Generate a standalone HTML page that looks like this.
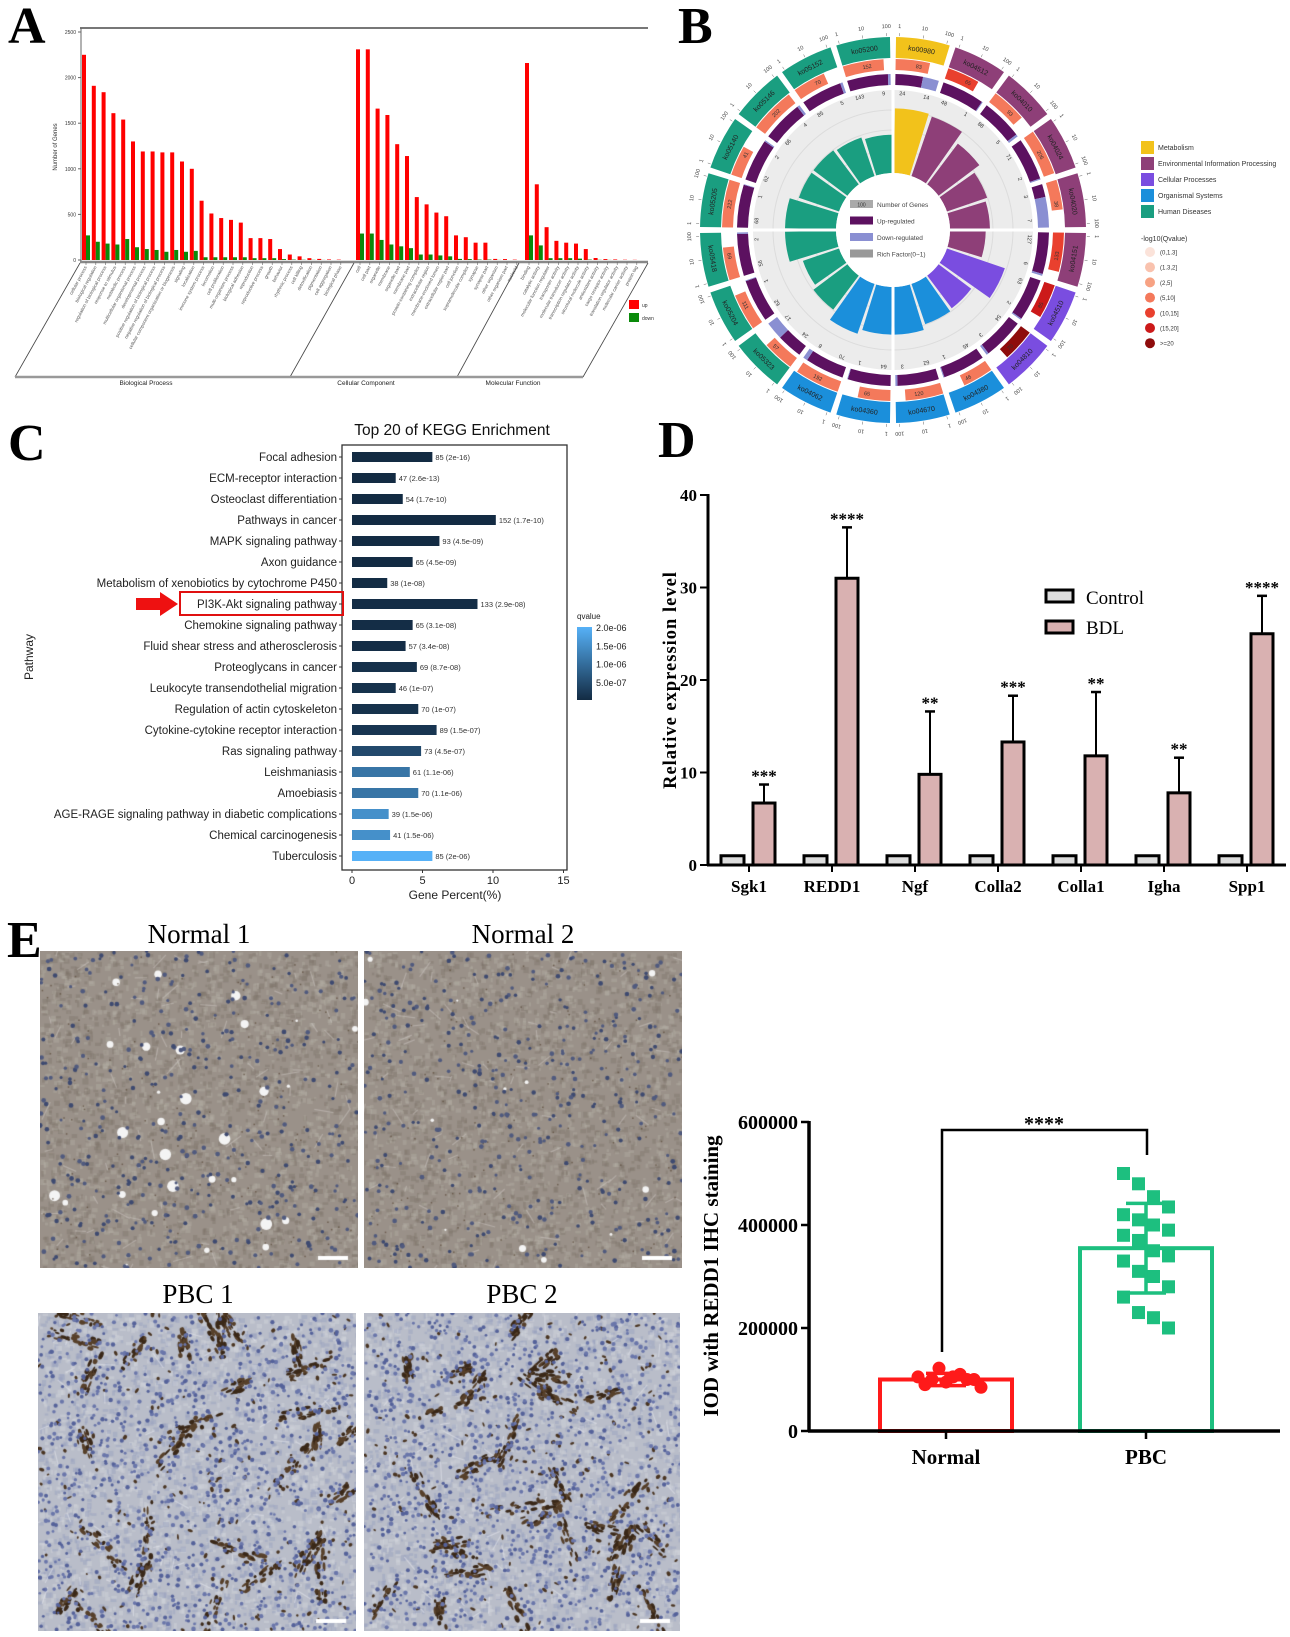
<!DOCTYPE html>
<html><head><meta charset="utf-8">
<style>
html,body{margin:0;padding:0;background:#fff;}
#stage{position:relative;width:1290px;height:1637px;overflow:hidden;background:#fff;}
canvas{position:absolute;}
svg{position:absolute;left:0;top:0;}
</style></head>
<body>
<div id="stage">
<canvas id="n1" width="318" height="317" style="left:40px;top:951px"></canvas>
<canvas id="n2" width="318" height="317" style="left:364px;top:951px"></canvas>
<canvas id="p1" width="318" height="318" style="left:38px;top:1313px"></canvas>
<canvas id="p2" width="316" height="318" style="left:364px;top:1313px"></canvas>
<svg id="svg" width="1290" height="1637" viewBox="0 0 1290 1637"></svg>
</div>
<script>
// ===== Panel A data =====
const goBPnames=["cellular process","biological regulation","regulation of biological process","response to stimulus","metabolic process","multicellular organismal process","developmental process","positive regulation of biological process","negative regulation of biological process","cellular component organization or biogenesis","signaling","localization","immune system process","locomotion","cell proliferation","multi-organism process","biological adhesion","reproduction","reproductive process","growth","behavior","rhythmic process","cell killing","detoxification","pigmentation","cell aggregation","biological phase"];
const goBPup=[2250,1910,1840,1610,1540,1300,1190,1190,1180,1180,1080,1000,650,510,460,440,410,240,240,230,120,60,40,20,12,6,4];
const goBPdown=[270,200,180,170,230,140,120,110,90,110,90,100,30,30,30,30,30,20,20,20,10,5,3,2,1,0,0];
const goCCnames=["cell","cell part","organelle","membrane","organelle part","membrane part","protein-containing complex","extracellular region","membrane-enclosed lumen","extracellular region part","cell junction","supramolecular complex","synapse","synapse part","other organism","other organism part","nucleoid"];
const goCCup=[2310,2310,1660,1590,1270,1140,690,610,520,480,270,250,190,190,12,10,4];
const goCCdown=[290,290,220,170,150,130,60,60,50,40,12,10,5,5,1,0,0];
const goMFnames=["binding","catalytic activity","molecular function regulator","transporter activity","molecular transducer activity","transcription regulator activity","structural molecule activity","antioxidant activity","cargo receptor activity","translation regulator activity","molecular carrier activity","protein tag"];
const goMFup=[2160,830,360,210,190,180,120,22,10,6,3,2];
const goMFdown=[270,160,20,20,20,15,5,2,1,0,0,0];
const goYTicks=[0,500,1000,1500,2000,2500];

// ===== Panel B data =====
const koIds=["ko00980","ko04512","ko04010","ko04024","ko04020","ko04151","ko04510","ko04810","ko04380","ko04670","ko04360","ko04062","ko05323","ko05204","ko05418","ko05205","ko05140","ko05146","ko05152","ko05200"];
const koClass=[0,1,1,1,1,1,2,2,3,3,3,3,4,4,4,4,4,4,4,4];
const koGenes=[83,65,93,206,38,133,85,70,46,120,65,192,57,111,69,222,41,202,70,152];
const koUp=[24,48,88,71,3,127,63,54,45,62,64,70,24,62,56,68,62,66,85,143];
const koDown=[14,1,5,2,7,6,2,3,1,3,1,8,17,1,2,1,2,4,5,9];
const koRich=[0.76,0.74,0.6,0.5,0.47,0.42,0.72,0.48,0.5,0.56,0.56,0.62,0.5,0.45,0.6,0.6,0.5,0.5,0.48,0.45];
const koQcat=[3,4,3,3,3,4,5,6,3,3,3,3,3,3,3,3,3,3,3,3];
const classNames=["Metabolism","Environmental Information Processing","Cellular Processes","Organismal Systems","Human Diseases"];
const qNames=["(0,1.3]","(1.3,2]","(2,5]","(5,10]","(10,15]","(15,20]",">=20"];

// ===== Panel C data =====
const keggNames=["Focal adhesion","ECM-receptor interaction","Osteoclast differentiation","Pathways in cancer","MAPK signaling pathway","Axon guidance","Metabolism of xenobiotics by cytochrome P450","PI3K-Akt signaling pathway","Chemokine signaling pathway","Fluid shear stress and atherosclerosis","Proteoglycans in cancer","Leukocyte transendothelial migration","Regulation of actin cytoskeleton","Cytokine-cytokine receptor interaction","Ras signaling pathway","Leishmaniasis","Amoebiasis","AGE-RAGE signaling pathway in diabetic complications","Chemical carcinogenesis","Tuberculosis"];
const keggPct=[5.7,3.1,3.6,10.2,6.2,4.3,2.5,8.9,4.3,3.8,4.6,3.1,4.7,6.0,4.9,4.1,4.7,2.6,2.7,5.7];
const keggCount=[85,47,54,152,93,65,38,133,65,57,69,46,70,89,73,61,70,39,41,85];
const keggQ=[2e-16,2.6e-13,1.7e-10,1.7e-10,4.5e-9,4.5e-9,1e-8,2.9e-8,3.1e-8,3.4e-8,8.7e-8,1e-7,1e-7,1.5e-7,4.5e-7,1.1e-6,1.1e-6,1.5e-6,1.5e-6,2e-6];
const keggQLabel=["2e-16","2.6e-13","1.7e-10","1.7e-10","4.5e-09","4.5e-09","1e-08","2.9e-08","3.1e-08","3.4e-08","8.7e-08","1e-07","1e-07","1.5e-07","4.5e-07","1.1e-06","1.1e-06","1.5e-06","1.5e-06","2e-06"];
const keggXTicks=[0,5,10,15];
const qTicks=[2.0e-6,1.5e-6,1.0e-6,5.0e-7];
const qTickLabels=["2.0e-06","1.5e-06","1.0e-06","5.0e-07"];

// ===== Panel D data =====
const genes=["Sgk1","REDD1","Ngf","Colla2","Colla1","Igha","Spp1"];
const ctrlVals=[1,1,1,1,1,1,1];
const bdlVals=[6.7,31,9.8,13.3,11.8,7.8,25];
const bdlErrTop=[8.7,36.5,16.6,18.3,18.7,11.6,29.1];
const bdlStars=["***","****","**","***","**","**","****"];
const dYTicks=[0,10,20,30,40];

// ===== Panel E data =====
const normalVals=[105000,100000,95000,110000,100000,90000,122000,105000,100000,85000];
const pbcVals=[500000,480000,455000,435000,420000,410000,400000,390000,380000,370000,350000,340000,330000,310000,300000,280000,260000,230000,220000,200000];
const groupMeans=[100000,355000];
const groupSD=[12000,87000];
const eYTicks=[0,200000,400000,600000];
const eGroups=["Normal","PBC"];

const NS='http://www.w3.org/2000/svg';
const svg=document.getElementById('svg');
function mk(tag,attrs,parent){const e=document.createElementNS(NS,tag);for(const k in attrs)e.setAttribute(k,attrs[k]);(parent||svg).appendChild(e);return e;}
function txt(x,y,s,attrs,parent){const e=mk('text',Object.assign({x:x,y:y},attrs),parent);e.textContent=s;return e;}
const SERIF='Liberation Serif, serif', SANS='Liberation Sans, sans-serif';

[["A",8,43],["B",678,43],["C",8,460],["D",658,457],["E",7,957]].forEach(p=>{
  const t=txt(p[1],p[2],p[0],{'font-family':SERIF,'font-size':52,'font-weight':'bold'});
  
  
});

// ===== Panel A =====
(function(){
  const g=mk('g',{});
  
  
  const y=v=>260-v*(228/2500);
  const step=9.8;
  mk('line',{x1:80,y1:28,x2:648,y2:28,stroke:'#777','stroke-width':2},g);
  mk('line',{x1:81,y1:28,x2:81,y2:262,stroke:'#666','stroke-width':1},g);
  mk('line',{x1:80,y1:262,x2:648,y2:262,stroke:'#888','stroke-width':2.5},g);
  goYTicks.forEach(t=>{mk('line',{x1:78,x2:81,y1:y(t),y2:y(t),stroke:'#666'},g);txt(76,y(t)+2,String(t),{'font-family':SANS,'font-size':5,'text-anchor':'end',fill:'#333'},g);});
  const yl=txt(0,0,'Number of Genes',{'font-family':SANS,'font-size':6,'text-anchor':'middle',fill:'#333',transform:'translate(57,147) rotate(-90)'},g);
  
  function group(names,up,down,x0,gname){
    names.forEach((n,i)=>{
      const x=x0+i*step;
      const r=mk('rect',{x:x,y:y(up[i]),width:4,height:260-y(up[i]),fill:'#ff0000'},g);
      
      
      const d=mk('rect',{x:x+4,y:y(down[i]),width:4,height:260-y(down[i]),fill:'#0a8a0a'},g);
      
      
      mk('line',{x1:x+4,x2:x+4,y1:262,y2:265,stroke:'#666','stroke-width':0.6},g);
      txt(0,0,n,{'font-family':SANS,'font-size':4.6,'text-anchor':'end',fill:'#555',transform:`translate(${x+5},267) rotate(-62)`},g);
    });
  }
  group(goBPnames,goBPup,goBPdown,82,'bp');
  group(goCCnames,goCCup,goCCdown,356,'cc');
  group(goMFnames,goMFup,goMFdown,525,'mf');
  [[80,15],[354,290],[519,457],[648,583]].forEach(s=>mk('line',{x1:s[0],y1:263,x2:s[1],y2:377,stroke:'#444','stroke-width':0.8},g));
  mk('line',{x1:15,y1:377,x2:583,y2:377,stroke:'#999','stroke-width':2.5},g);
  [["Biological Process",146],["Cellular Component",366],["Molecular Function",513]].forEach(l=>{
    const t=txt(l[1],385,l[0],{'font-family':SANS,'font-size':6.5,'text-anchor':'middle',fill:'#222'},g);
    
  });
  const lu=mk('rect',{x:629,y:300,width:10,height:9,fill:'#ff0000'},g);
  
  txt(642,307,'up',{'font-family':SANS,'font-size':5,fill:'#333'},g);
  const ld=mk('rect',{x:629,y:313,width:10,height:9,fill:'#0a8a0a'},g);
  
  txt(642,320,'down',{'font-family':SANS,'font-size':5,fill:'#333'},g);
})();

// ===== Panel B =====
(function(){
  const g=mk('g',{});
  
  
  const cx=893,cy=230;
  const classCol=['#f2c21b','#8e3f78','#7a4de0','#1b8fdb','#1a9e80'];
  const qCol=['#fbe3da','#f9c2ae','#f7a283','#f4795b','#e9402e','#cc1a1a','#8e0c0c'];
  const P=(r,a)=>[cx+r*Math.sin(a*Math.PI/180),cy-r*Math.cos(a*Math.PI/180)];
  function arc(r0,r1,a0,a1){const p1=P(r1,a0),p2=P(r1,a1),p3=P(r0,a1),p4=P(r0,a0);const lg=(a1-a0)>180?1:0;
    return `M${p1[0]},${p1[1]} A${r1},${r1} 0 ${lg} 1 ${p2[0]},${p2[1]} L${p3[0]},${p3[1]} A${r0},${r0} 0 ${lg} 0 ${p4[0]},${p4[1]} Z`;}
  mk('circle',{cx:cx,cy:cy,r:140,fill:'#ececec'},g);
  [80,100,120].forEach(r=>mk('circle',{cx:cx,cy:cy,r:r,fill:'none',stroke:'#dcdcdc','stroke-width':1},g));
  const n=koIds.length, seg=360/n, gap=0.9;
  const maxG=Math.max(...koGenes);
  koIds.forEach((id,i)=>{
    const a0=i*seg+gap,a1=(i+1)*seg-gap,am=(a0+a1)/2;
    const col=classCol[koClass[i]];
    const o=mk('path',{d:arc(172,193,a0,a1),fill:col},g);
    
    
    const tp=P(182.5,am);const rot=(am>90&&am<270)?am+180:am;
    txt(tp[0],tp[1]+2.5,id,{'font-family':SANS,'font-size':7,'text-anchor':'middle',fill:'#222',transform:`rotate(${rot},${tp[0]},${tp[1]})`},g);
    ['1','10','100'].forEach((s,k)=>{const aa=a0+1+k*(a1-a0-2)/2;const q=P(204,aa);
      txt(q[0],q[1]+2,s,{'font-family':SANS,'font-size':5.5,'text-anchor':'middle',fill:'#444',transform:`rotate(${aa},${q[0]},${q[1]})`},g);
      const t1=P(194,aa),t2=P(197,aa);mk('line',{x1:t1[0],y1:t1[1],x2:t2[0],y2:t2[1],stroke:'#666','stroke-width':0.5},g);});
    const ge=a0+(a1-a0)*Math.min(1,0.55+0.45*koGenes[i]/maxG);
    const s=mk('path',{d:arc(160,171,a0,ge),fill:qCol[koQcat[i]]},g);
    
    
    const tp2=P(165.5,am);
    txt(tp2[0],tp2[1]+2,String(koGenes[i]),{'font-family':SANS,'font-size':5.5,'text-anchor':'middle',fill:'#333',transform:`rotate(${rot},${tp2[0]},${tp2[1]})`},g);
    const tot=koUp[i]+koDown[i];const am2=a0+(a1-a0)*koUp[i]/tot;
    const u=mk('path',{d:arc(145,156,a0,am2),fill:'#5c1160'},g);
    
    
    const d=mk('path',{d:arc(145,156,am2,a1),fill:'#8a8fd2'},g);
    
    
    const q1=P(137,a0+3),q2=P(137,a1-3);
    txt(q1[0],q1[1]+2,String(koUp[i]),{'font-family':SANS,'font-size':5.5,'text-anchor':'middle',fill:'#333',transform:`rotate(${a0+3},${q1[0]},${q1[1]})`},g);
    txt(q2[0],q2[1]+2,String(koDown[i]),{'font-family':SANS,'font-size':5.5,'text-anchor':'middle',fill:'#333',transform:`rotate(${a1-3},${q2[0]},${q2[1]})`},g);
    const rr=57+koRich[i]*85;
    const b=mk('path',{d:arc(57,rr,a0,a1),fill:col},g);
    
    
  });
  [0,90,180,270].forEach(a=>{const p1=P(50,a),p2=P(215,a);mk('line',{x1:p1[0],y1:p1[1],x2:p2[0],y2:p2[1],stroke:'#fff','stroke-width':3},g);});
  mk('circle',{cx:cx,cy:cy,r:57,fill:'#fff'},g);
  const lg=[['#aaa','Number of Genes'],['#5c1160','Up-regulated'],['#8a8fd2','Down-regulated'],['#999','Rich Factor(0~1)']];
  lg.forEach((l,k)=>{const yy=200+k*16.5;
    const r=mk('rect',{x:850,y:yy,width:23,height:8,fill:l[0]},g);
    
    txt(877,yy+7,l[1],{'font-family':SANS,'font-size':6.5,fill:'#444'},g);});
  txt(861.5,206.5,'100',{'font-family':SANS,'font-size':5,'text-anchor':'middle',fill:'#333'},g);
  classNames.forEach((c,k)=>{const yy=141+k*16;
    const r=mk('rect',{x:1141,y:yy,width:13,height:13,fill:classCol[k]},g);
    
    
    txt(1158,yy+9,c,{'font-family':SANS,'font-size':7,fill:'#333'},g);});
  txt(1141,241,'-log10(Qvalue)',{'font-family':SANS,'font-size':7,fill:'#333'},g);
  qNames.forEach((q,k)=>{const yy=252+k*15.2;
    const c=mk('circle',{cx:1150,cy:yy,r:5,fill:qCol[k]},g);
    
    
    txt(1160,yy+2.5,q,{'font-family':SANS,'font-size':6,fill:'#333'},g);});
})();

// ===== Panel C =====
(function(){
  const g=mk('g',{});
  
  
  const x=v=>352+v*14.1, rowY=i=>457+i*21;
  const qc=q=>{const t=Math.min(1,q/2e-6);const a=[19,43,67],b=[86,177,247];return `rgb(${a.map((c,k)=>Math.round(c+(b[k]-c)*t)).join(',')})`;};
  txt(452,435,'Top 20 of KEGG Enrichment',{'font-family':SANS,'font-size':15.5,'text-anchor':'middle',fill:'#111'},g);
  mk('rect',{x:342,y:445,width:225,height:425,fill:'none',stroke:'#333','stroke-width':1.3},g);
  keggNames.forEach((nm,i)=>{const yy=rowY(i);
    const t=txt(337,yy+4,nm,{'font-family':SANS,'font-size':11.5,'text-anchor':'end',fill:'#222'},g);
    
    mk('line',{x1:339,x2:342,y1:yy,y2:yy,stroke:'#333'},g);
    const b=mk('rect',{x:x(0),y:yy-5,width:x(keggPct[i])-x(0),height:10,fill:qc(keggQ[i])},g);
    
    
    txt(x(keggPct[i])+3,yy+3,keggCount[i]+' ('+keggQLabel[i]+')',{'font-family':SANS,'font-size':7.5,fill:'#333'},g);
  });
  keggXTicks.forEach(t=>{mk('line',{x1:x(t),x2:x(t),y1:870,y2:873,stroke:'#333'},g);
    txt(x(t),884,String(t),{'font-family':SANS,'font-size':11,'text-anchor':'middle',fill:'#222'},g);});
  const xt=txt(455,899,'Gene Percent(%)',{'font-family':SANS,'font-size':12,'text-anchor':'middle',fill:'#222'},g);
  
  const yt=txt(0,0,'Pathway',{'font-family':SANS,'font-size':12,'text-anchor':'middle',fill:'#222',transform:'translate(33,657) rotate(-90)'},g);
  
  const hb=mk('rect',{x:180,y:592,width:163,height:23,fill:'none',stroke:'#e01010','stroke-width':2},g);
  
  const ar=mk('path',{d:'M136,598 L160,598 L160,592 L178,604 L160,616 L160,610 L136,610 Z',fill:'#ee1111'},g);
  
  const defs=mk('defs',{},g);const lgd=mk('linearGradient',{id:'qg',x1:0,y1:1,x2:0,y2:0},defs);
  mk('stop',{offset:0,'stop-color':'#132b43'},lgd);mk('stop',{offset:1,'stop-color':'#56b1f7'},lgd);
  const cb=mk('rect',{x:577,y:627,width:15,height:73,fill:'url(#qg)'},g);
  
  txt(577,619,'qvalue',{'font-family':SANS,'font-size':8,fill:'#222'},g);
  const qy=q=>700-q/2e-6*73+1;
  qTicks.forEach((q,k)=>txt(596,qy(q)+3,qTickLabels[k],{'font-family':SANS,'font-size':9,fill:'#222'},g));
})();

// ===== Panel D =====
(function(){
  const g=mk('g',{});
  
  
  const y=v=>865-v*9.25, cx=i=>749+i*83;
  dYTicks.forEach(t=>{mk('line',{x1:700,x2:708,y1:y(t),y2:y(t),stroke:'#000','stroke-width':2},g);
    txt(697,y(t)+6,String(t),{'font-family':SERIF,'font-size':17,'font-weight':'bold','text-anchor':'end'},g);});
  genes.forEach((gn,i)=>{const c=cx(i);
    const cr=mk('rect',{x:c-28,y:y(ctrlVals[i]),width:23,height:865-y(ctrlVals[i]),fill:'#dcdcdc',stroke:'#000','stroke-width':3},g);
    
    
    mk('line',{x1:c+15,x2:c+15,y1:y(bdlVals[i]),y2:y(bdlErrTop[i]),stroke:'#000','stroke-width':2},g);
    mk('line',{x1:c+10,x2:c+20,y1:y(bdlErrTop[i]),y2:y(bdlErrTop[i]),stroke:'#000','stroke-width':2.5},g);
    const br=mk('rect',{x:c+4,y:y(bdlVals[i]),width:22,height:865-y(bdlVals[i]),fill:'#d9b1b1',stroke:'#000','stroke-width':3},g);
    
    
    txt(c+15,y(bdlErrTop[i])-3,bdlStars[i],{'font-family':SERIF,'font-size':17,'font-weight':'bold','text-anchor':'middle'},g);
    mk('line',{x1:c,x2:c,y1:865,y2:872,stroke:'#000','stroke-width':2},g);
    const xl=txt(c,892,gn,{'font-family':SERIF,'font-size':17,'font-weight':'bold','text-anchor':'middle'},g);
    
  });
  mk('line',{x1:708,x2:708,y1:494,y2:866,stroke:'#000','stroke-width':3},g);
  mk('line',{x1:707,x2:1286,y1:865,y2:865,stroke:'#000','stroke-width':3},g);
  const yt=txt(0,0,'Relative expression level',{'font-family':SERIF,'font-size':18.5,'font-weight':'bold','text-anchor':'middle','letter-spacing':'1',transform:'translate(676,680) rotate(-90)'},g);
  
  const l1=mk('rect',{x:1046,y:590,width:27,height:12,fill:'#dcdcdc',stroke:'#000','stroke-width':3},g);
  
  txt(1086,604,'Control',{'font-family':SERIF,'font-size':19},g);
  const l2=mk('rect',{x:1046,y:621,width:27,height:12,fill:'#d9b1b1',stroke:'#000','stroke-width':3},g);
  
  txt(1086,634,'BDL',{'font-family':SERIF,'font-size':19},g);
})();

[["Normal 1",199,943],["Normal 2",523,943],["PBC 1",198,1303],["PBC 2",522,1303]].forEach(t=>{
  const e=txt(t[1],t[2],t[0],{'font-family':SERIF,'font-size':27,'text-anchor':'middle'});
  
});

// ===== Panel E chart =====
(function(){
  const g=mk('g',{});
  
  
  const y=v=>1431-v*(309/600000);
  const gx=[946,1146], cols=['#ff1a1a','#1dbf7f'];
  eYTicks.forEach(t=>{mk('line',{x1:801,x2:809,y1:y(t),y2:y(t),stroke:'#000','stroke-width':2.5},g);
    txt(798,y(t)+7,String(t),{'font-family':SERIF,'font-size':20,'font-weight':'bold','text-anchor':'end'},g);});
  [normalVals,pbcVals].forEach((vals,k)=>{
    const c=gx[k];
    const b=mk('rect',{x:c-66,y:y(groupMeans[k]),width:132,height:1431-y(groupMeans[k]),fill:'none',stroke:cols[k],'stroke-width':4},g);
    
    
    vals.forEach((v,i)=>{
      const off=k===0?((i%5)-2)*14+(i>=5?7:0):((i%4)-1.5)*15;
      if(k===0){const p=mk('circle',{cx:c+off,cy:y(v),r:6.5,fill:cols[k]},g);
        
        }
      else{const p=mk('rect',{x:c+off-6.5,y:y(v)-6.5,width:13,height:13,fill:cols[k]},g);
        
        }
    });
    const lo=y(groupMeans[k]-groupSD[k]),hi=y(groupMeans[k]+groupSD[k]);
    mk('line',{x1:c,x2:c,y1:lo,y2:hi,stroke:cols[k],'stroke-width':3.5},g);
    mk('line',{x1:c-20,x2:c+20,y1:lo,y2:lo,stroke:cols[k],'stroke-width':3.5},g);
    mk('line',{x1:c-20,x2:c+20,y1:hi,y2:hi,stroke:cols[k],'stroke-width':3.5},g);
    mk('line',{x1:c,x2:c,y1:1431,y2:1439,stroke:'#000','stroke-width':2.5},g);
    const xl=txt(c,1464,eGroups[k],{'font-family':SERIF,'font-size':21,'font-weight':'bold','text-anchor':'middle'},g);
    
  });
  mk('line',{x1:809,x2:809,y1:1121,y2:1432,stroke:'#000','stroke-width':3.5},g);
  mk('line',{x1:808,x2:1280,y1:1431,y2:1431,stroke:'#000','stroke-width':3.5},g);
  const br=mk('path',{d:'M942,1352 L942,1130 L1147,1130 L1147,1155',fill:'none',stroke:'#000','stroke-width':2.5},g);
  
  txt(1044,1130,'****',{'font-family':SERIF,'font-size':20,'font-weight':'bold','text-anchor':'middle'},g);
  const yt=txt(0,0,'IOD with REDD1 IHC staining',{'font-family':SERIF,'font-size':21,'font-weight':'bold','text-anchor':'middle',transform:'translate(718,1276) rotate(-90)'},g);
  
})();

// ===== IHC textures =====
function rng(seed){let s=seed>>>0;return ()=>{s=(s*1664525+1013904223)>>>0;return s/4294967296;};}
function tissue(id,pbc,seed){
  const c=document.getElementById(id),x=c.getContext('2d'),w=c.width,h=c.height,R=rng(seed);
  x.fillStyle=pbc?'#b9bdc9':'#9a9189';x.fillRect(0,0,w,h);
  for(let i=0;i<3000;i++){x.fillStyle=pbc?(R()<.5?'rgba(150,160,190,0.45)':'rgba(210,212,220,0.45)'):(R()<.5?'rgba(125,115,105,0.4)':'rgba(180,174,166,0.4)');
    x.fillRect(R()*w,R()*h,2+R()*4,2+R()*4);}
  x.strokeStyle=pbc?'rgba(228,230,236,0.55)':'rgba(205,200,195,0.5)';x.lineWidth=1.2;
  for(let i=0;i<(pbc?60:70);i++){const a=R()*w,b=R()*h,an=R()*6.28,l=6+R()*14;x.beginPath();x.moveTo(a,b);x.lineTo(a+Math.cos(an)*l,b+Math.sin(an)*l);x.stroke();}
  if(pbc){
    for(let k=0;k<30;k++){const ccx=R()*w,ccy=R()*h,an=R()*6.28,len=20+R()*50;
      for(let i=0;i<22;i++){const t=(R()-0.5)*len,px=ccx+Math.cos(an)*t+(R()-0.5)*10,py=ccy+Math.sin(an)*t+(R()-0.5)*10;
        x.fillStyle=R()<.5?'#3a2818':'#57402a';x.beginPath();x.ellipse(px,py,1.5+R()*3,0.8+R()*1.6,an,0,6.3);x.fill();}}
    for(let i=0;i<200;i++){x.fillStyle='#4a3522';x.beginPath();x.ellipse(R()*w,R()*h,1+R()*2,0.8+R()*1.2,R()*3,0,6.3);x.fill();}
  } else {
    for(let i=0;i<(seed%2?30:12);i++){x.fillStyle='#f4f4f4';x.beginPath();x.arc(R()*w,R()*h,1+R()*(seed%2?5:3),0,6.3);x.fill();}
    for(let i=0;i<150;i++){x.fillStyle='rgba(90,72,55,0.7)';x.fillRect(R()*w,R()*h,1.5,1.5);}
  }
  for(let i=0;i<(pbc?1100:420);i++){x.fillStyle=pbc?(R()<.5?'#55629a':'#6a76aa'):(R()<.5?'#3e4a70':'#505a7e');x.beginPath();x.arc(R()*w,R()*h,pbc?1.3+R()*1:1.5+R()*0.9,0,6.3);x.fill();}
  x.fillStyle='#fff';x.fillRect(w-40,h-12,30,4);
}
tissue('n1',false,11);tissue('n2',false,12);tissue('p1',true,21);tissue('p2',true,22);
</script>
</body></html>
